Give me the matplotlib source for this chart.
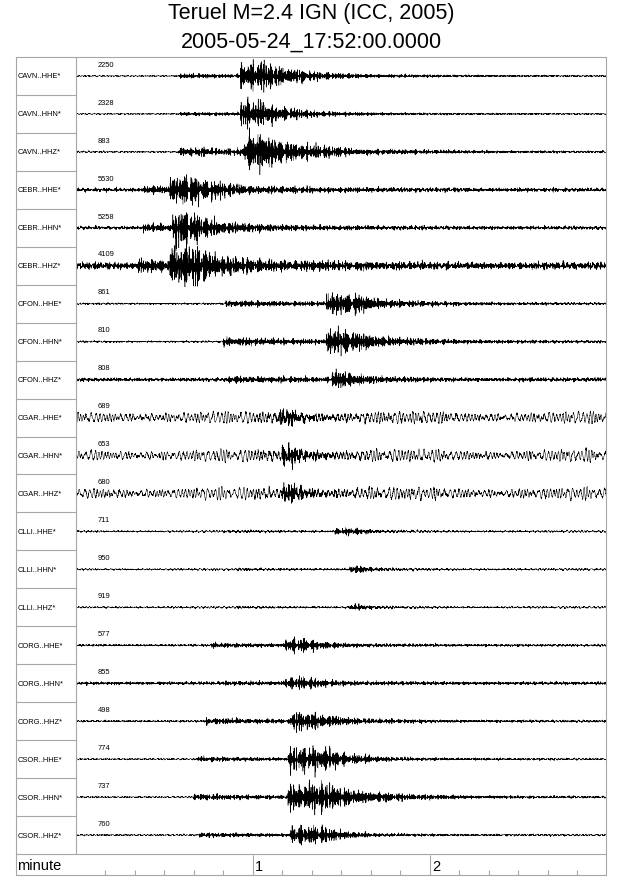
import matplotlib
matplotlib.use("Agg")
import matplotlib.pyplot as plt
import numpy as np

plt.rcParams['font.family'] = ['Liberation Sans', 'DejaVu Sans']

title1 = "Teruel M=2.4 IGN (ICC, 2005)"
title2 = "2005-05-24_17:52:00.0000"

stations = ["CAVN..HHE*", "CAVN..HHN*", "CAVN..HHZ*",
            "CEBR..HHE*", "CEBR..HHN*", "CEBR..HHZ*",
            "CFON..HHE*", "CFON..HHN*", "CFON..HHZ*",
            "CGAR..HHE*", "CGAR..HHN*", "CGAR..HHZ*",
            "CLLI..HHE*", "CLLI..HHN*", "CLLI..HHZ*",
            "CORG..HHE*", "CORG..HHN*", "CORG..HHZ*",
            "CSOR..HHE*", "CSOR..HHN*", "CSOR..HHZ*"]
peak_counts = [2250, 2328, 883, 5530, 5258, 4109, 861, 810, 808,
               689, 653, 680, 711, 950, 919, 577, 855, 498, 774, 737, 760]

# envelope (seconds after 17:52:00, amplitudes in pixels)
noise_px = [0.4, 0.4, 0.5, 1.5, 1.3, 3.0, 0.6, 0.6, 1.5, 1.0, 1.0, 1.0,
            0.5, 0.5, 0.5, 0.8, 1.3, 0.7, 0.5, 0.5, 0.5]
longper_px = [0.2, 0.2, 0.3, 0.4, 0.4, 0.6, 0.3, 0.3, 0.4, 2.5, 2.5, 2.5,
              0.4, 0.4, 0.4, 0.3, 0.3, 0.3, 0.3, 0.3, 0.3]
p_time = [35, 35, 35, 23, 23, 21, 51, 50, 52, 60, 60, 60,
          50, 55, 55, 46, 50, 44, 41, 40, 42]
p_amp = [2.0, 1.5, 4.0, 3.0, 3.0, 4.0, 3.0, 4.0, 2.0, 1.0, 1.0, 1.0,
         0.5, 0.5, 0.4, 1.5, 0.8, 2.5, 2.0, 2.5, 2.0]
s_time = [56, 56, 57, 32, 33, 32, 85, 85, 87, 69, 70, 70,
          88, 93, 93, 71, 71, 73, 72, 72, 73]
s_amp = [13, 12, 16, 11, 13, 14, 9, 10, 6, 6, 7, 7,
         2.5, 3.0, 2.0, 5, 4, 7, 9, 12, 7]
s_dur = [8, 6, 6, 8, 5, 10, 8, 6, 4, 4, 4, 4, 8, 4, 4, 8, 8, 8, 14, 14, 12]
s_decay = [10, 9, 12, 8, 8, 8, 10, 12, 6, 4, 4, 4, 5, 4, 4, 6, 6, 8, 8, 12, 6]

W, H = 640, 878
row_top, row_bot = 58, 855
x0, x1 = 75.5, 606.5
row_h = (row_bot - row_top) / len(stations)
grey = '#a6a6a6'

t = np.arange(0, 180.001, 0.025)


def texture(t, k, fmin, fmax, n=80):
    # dense sum of sines, quadratic phases keep it from lining up into pulses
    j = np.arange(1, n + 1)
    f = fmin + (fmax - fmin) * ((j * 0.7071068 + k * 0.414214) % 1)
    ph = 2 * np.pi * ((j * j * 0.3819660 + j * k * 0.2360680) % 1)
    s = np.sin(2 * np.pi * f[:, None] * t[None, :] + ph[:, None]).sum(0)
    return s / s.std()


fig = plt.figure(figsize=(W / 100, H / 100), dpi=100)

# traces
ax = fig.add_axes([x0 / W, 1 - row_bot / H, (x1 - x0) / W, (row_bot - row_top) / H])
ax.set_xlim(0, 180)
ax.set_ylim(len(stations), 0)
ax.axis('off')

for i in range(len(stations)):
    dp = np.clip(t - p_time[i], 0, None)
    p_part = p_amp[i] * (t >= p_time[i]) * np.exp(-dp / 40.0)
    ds = np.clip(t - s_time[i] - s_dur[i], 0, None)
    on = t >= s_time[i]
    s_part = s_amp[i] * on * (0.85 * np.exp(-ds / s_decay[i]) + 0.15 * np.exp(-ds / (4 * s_decay[i])))
    env = noise_px[i] + p_part + s_part
    # burstiness of the arrivals
    env = env * np.clip(1 + 0.45 * texture(t, i + 100, 0.2, 1.5, 20), 0.25, None)
    sig = env / 2.8 * texture(t, i, 2.0, 15.0) + longper_px[i] * texture(t, i + 50, 0.4, 1.2, 24)
    ax.plot(t, i + 0.5 - sig / row_h, color='black', lw=0.35)
    ax.text(7.6, i + 0.19, str(peak_counts[i]), fontsize=5.4, va='center', ha='left')

# minute row
axm = fig.add_axes([x0 / W, 1 - 876 / H, (x1 - x0) / W, (876 - row_bot) / H])
axm.set_xlim(0, 3)
axm.set_ylim(0, 1)
for s in axm.spines.values():
    s.set_visible(False)
axm.set_yticks([])
axm.set_xticks([1, 2])
axm.set_xticklabels([])
axm.set_xticks(np.arange(1, 18) / 6, minor=True)
axm.tick_params(axis='x', which='major', direction='in', length=14.7, color=grey, width=0.8)
axm.tick_params(axis='x', which='minor', direction='in', length=3.8, color=grey, width=0.8)
for m in [1, 2]:
    axm.text(m + 0.015, 0.42, str(m), fontsize=10.5, va='center', ha='left')

# frame, label column and titles in pixel coordinates
fr = fig.add_axes([0, 0, 1, 1], facecolor='none')
fr.set_xlim(0, W)
fr.set_ylim(H, 0)
fr.axis('off')
fr.plot([16, 606, 606, 16, 16], [row_top, row_top, 876, 876, row_top], color=grey, lw=0.8)
fr.plot([76, 76], [row_top, row_bot], color=grey, lw=0.8)
fr.plot([16, 606], [row_bot, row_bot], color=grey, lw=0.8)
for i in range(1, len(stations)):
    y = row_top + i * row_h
    fr.plot([16, 76], [y, y], color=grey, lw=0.8)
for i, name in enumerate(stations):
    fr.text(17.5, row_top + (i + 0.5) * row_h, name, fontsize=5.4, va='center', ha='left')
fr.text(17, 866.5, "minute", fontsize=10.5, va='center', ha='left')
fr.text(311.5, 14, title1, fontsize=15.5, va='center', ha='center')
fr.text(311.5, 42, title2, fontsize=15.5, va='center', ha='center')

fig.savefig("out.png", dpi=100)
